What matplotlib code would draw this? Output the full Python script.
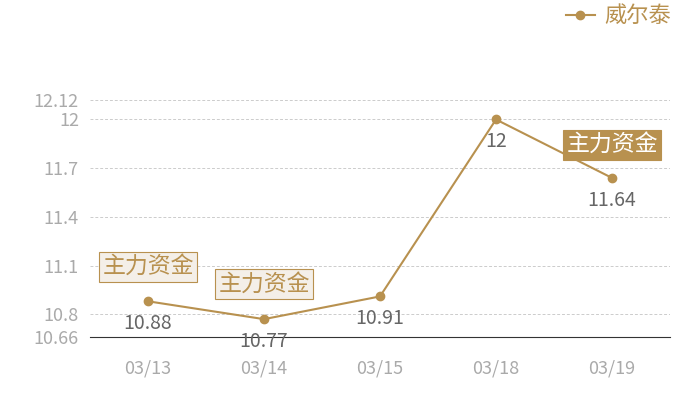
import matplotlib.pyplot as plt

plt.rcParams['font.family'] = ['Noto Sans CJK SC', 'DejaVu Sans']

dates = ["03/13", "03/14", "03/15", "03/18", "03/19"]
prices = [10.88, 10.77, 10.91, 12.0, 11.64]
price_labels = ["10.88", "10.77", "10.91", "12", "11.64"]
y_ticks = [10.66, 10.8, 11.1, 11.4, 11.7, 12.0, 12.12]
y_tick_labels = ["10.66", "10.8", "11.1", "11.4", "11.7", "12", "12.12"]
flow_light = ["03/13", "03/14"]
flow_dark = ["03/19"]
series_name = "威尔泰"
flow_text = "主力资金"

gold = "#b8914f"
grey = "#aaaaaa"

fig = plt.figure(figsize=(7, 4), dpi=100)
ax = fig.add_axes([90 / 700, 63 / 400, 580 / 700, 237 / 400])

xs = list(range(len(dates)))
ax.plot(xs, prices, color=gold, lw=1.5, marker="o", ms=6, label=series_name)

ax.set_xlim(-0.5, len(dates) - 0.5)
ax.set_ylim(y_ticks[0], y_ticks[-1])
ax.set_yticks(y_ticks)
ax.set_yticklabels(y_tick_labels)
ax.set_xticks(xs)
ax.set_xticklabels(dates)
ax.tick_params(length=0, colors=grey, labelsize=13)
ax.tick_params(axis="x", pad=16)
ax.tick_params(axis="y", pad=8)
for t in y_ticks[1:]:
    ax.axhline(t, color="#cccccc", lw=0.7, ls=(0, (3, 2)), zorder=0)
for s in ["left", "right", "top"]:
    ax.spines[s].set_visible(False)
ax.spines["bottom"].set_color("#333333")

for x, y, lab in zip(xs, prices, price_labels):
    ax.annotate(lab, (x, y), xytext=(0, -16), textcoords="offset points",
                ha="center", va="center", fontsize=14, color="#666666")

for x, d, y in zip(xs, dates, prices):
    if d in flow_light:
        ax.annotate(flow_text, (x, y), xytext=(0, 25), textcoords="offset points",
                    ha="center", va="center", fontsize=16.5, color=gold,
                    bbox=dict(boxstyle="square,pad=0.15", fc="#f4efe8", ec=gold, lw=0.8))
    elif d in flow_dark:
        ax.annotate(flow_text, (x, y), xytext=(0, 24), textcoords="offset points",
                    ha="center", va="center", fontsize=16.5, color="white",
                    bbox=dict(boxstyle="square,pad=0.15", fc=gold, ec=gold, lw=0.8))

ax.legend(loc="upper right", bbox_to_anchor=(675 / 700, 1.0), bbox_transform=fig.transFigure,
          frameon=False, fontsize=16, labelcolor=gold, handlelength=1.3,
          handletextpad=0.4, borderaxespad=0.0, borderpad=0.2)

fig.savefig("out.png", dpi=100)
